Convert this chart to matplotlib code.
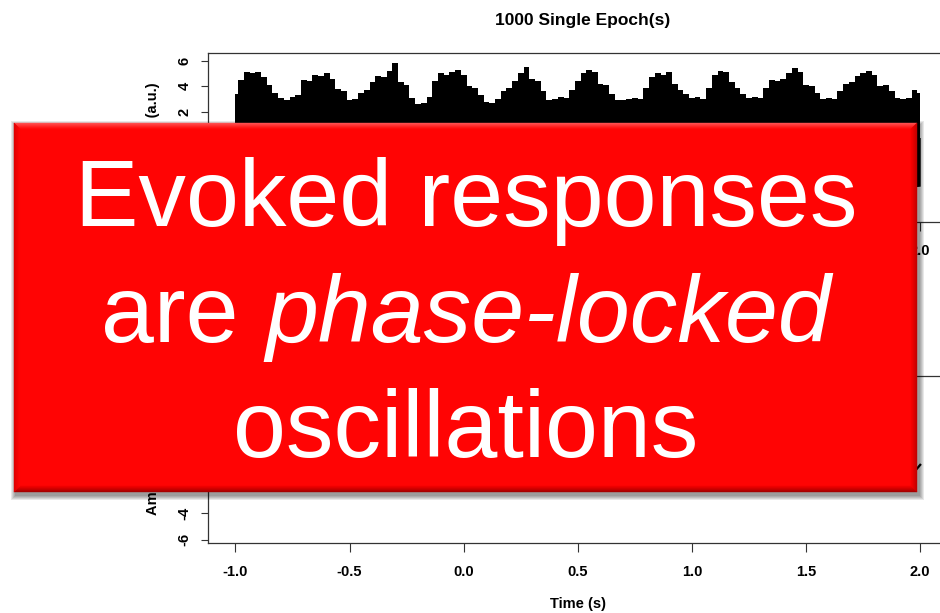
import numpy as np
import matplotlib
matplotlib.use("Agg")
import matplotlib.pyplot as plt
from matplotlib.patches import Rectangle, Polygon

# ---------------- data ----------------
# upper edge of the black band of 1000 overlaid single epochs, every 0.025 s from -1.0 s to 2.0 s
epoch_upper = [
    3.4, 4.5, 5.1, 5.0, 5.1, 4.7, 4.1, 3.5, 3.1, 2.9,
    3.2, 3.3, 4.5, 4.4, 4.9, 4.8, 5.0, 4.6, 3.8, 3.6,
    2.9, 3.0, 3.5, 3.7, 4.3, 4.8, 4.7, 5.2, 5.8, 4.3,
    4.1, 3.1, 2.6, 2.7, 3.2, 4.4, 5.0, 4.9, 5.1, 5.3,
    4.9, 4.0, 3.9, 3.3, 2.8, 2.7, 3.0, 3.6, 3.9, 4.4,
    5.0, 5.5, 4.6, 4.4, 3.6, 2.9, 3.0, 3.2, 3.1, 3.7,
    4.4, 5.0, 5.3, 5.1, 4.2, 4.1, 3.4, 2.9, 2.9, 3.0,
    3.1, 3.0, 3.9, 4.7, 5.0, 4.9, 5.1, 4.2, 3.7, 3.4,
    3.1, 3.2, 3.0, 3.9, 4.9, 5.2, 5.1, 4.3, 3.9, 3.4,
    3.1, 3.2, 3.1, 3.9, 4.5, 4.4, 4.6, 5.0, 5.4, 5.1,
    4.1, 4.0, 3.5, 3.0, 3.1, 3.0, 3.6, 4.2, 4.3, 4.8,
    5.0, 5.2, 4.9, 4.0, 4.1, 3.6, 3.1, 3.0, 3.1, 3.7,
    3.5,
]
epoch_upper_time = np.round(-1.0 + 0.025 * np.arange(len(epoch_upper)), 3)

# lower edge of the band (mostly hidden), every 0.1 s
epoch_lower = [
    -4.0, -4.8, -3.5, -4.6, -3.2, -4.9, -4.4, -3.3, -4.7, -5.0,
    -3.4, -4.6, -4.9, -3.2, -4.3, -5.0, -3.6, -3.8, -4.9, -3.5,
    -3.6, -4.8, -4.2, -3.3, -4.8, -4.5, -3.3, -4.9, -4.5, -4.0,
    -3.8,
]
epoch_lower_time = np.round(-1.0 + 0.1 * np.arange(len(epoch_lower)), 3)

# average over the epochs (mostly hidden), every 0.05 s
average = [
    0.3, 1.0, 1.0, 0.1, -0.9, -0.9, 0.3, 0.8, 0.9, -0.1,
    -1.0, -0.5, 0.3, 0.9, 1.2, 0.0, -1.3, -0.7, 0.8, 1.1,
    0.7, -0.3, -1.1, -0.9, -0.1, 1.0, 0.8, -0.4, -1.0, -0.7,
    0.3, 1.1, 0.4, -0.6, -1.1, -0.8, -0.1, 0.9, 0.9, -0.2,
    -0.9, -0.9, 0.7, 1.0, -0.2, -0.9, -0.8, 0.3, 0.7, 1.1,
    0.2, -0.6, -1.0, -0.5, 0.3, 1.0, 0.7, -0.1, -0.9, -1.4,
    -0.4,
]
average_time = np.round(-1.0 + 0.05 * np.arange(len(average)), 3)

x_ticks = [-1.0, -0.5, 0.0, 0.5, 1.0, 1.5, 2.0]
x_tick_labels = ["-1.0", "-0.5", "0.0", "0.5", "1.0", "1.5", "2.0"]
y_ticks = [-6, -4, -2, 0, 2, 4, 6]
y_tick_labels = ["-6", "-4", "-2", "0", "2", "4", "6"]

top_title = "1000 Single Epoch(s)"
x_label = "Time (s)"
y_label = "Amplitude (a.u.)"
overlay_line1 = "Evoked responses"
overlay_line2a = "are"
overlay_line2b = "phase-locked"
overlay_line3 = "oscillations"

# ---------------- figure ----------------
plt.rcParams["font.family"] = ["Liberation Sans", "DejaVu Sans"]
plt.rcParams["font.weight"] = "bold"
plt.rcParams["axes.unicode_minus"] = False

W, H = 940, 613
fig = plt.figure(figsize=(W / 100, H / 100), dpi=100)
fig.patch.set_facecolor("white")

axL, axR = 208, 947.6
ax1 = fig.add_axes([axL / W, (H - 222) / H, (axR - axL) / W, 169 / H])
ax2 = fig.add_axes([axL / W, (H - 543) / H, (axR - axL) / W, 167 / H])

edge = "#333333"
for ax in (ax1, ax2):
    ax.set_xlim(-1.12, 2.12)
    ax.set_xticks(x_ticks)
    ax.set_xticklabels(x_tick_labels, fontsize=10.5, fontweight="bold")
    ax.set_yticks(y_ticks)
    ax.set_yticklabels(y_tick_labels, fontsize=10.5, fontweight="bold",
                       rotation=90, va="center")
    ax.tick_params(axis="x", direction="out", length=6.5, width=0.8,
                   color=edge, pad=9)
    ax.tick_params(axis="y", direction="out", length=5, width=0.8,
                   color=edge, pad=7)
    for s in ax.spines.values():
        s.set_color(edge)
        s.set_linewidth(0.9)
    ax.set_ylabel(y_label, fontsize=10.5, fontweight="bold")
    ax.yaxis.set_label_coords(-(axL - 160) / (axR - axL), 0.5)

ax2.set_xlabel(x_label, fontsize=10.5, fontweight="bold")
ax2.xaxis.set_label_coords(0.5, -(597 - 543) / 167)

ax1.set_ylim(-6.6, 6.6)
ax2.set_ylim(-6.24, 6.24)

# labels that lie completely under the red box are not drawn
for lab, v in zip(ax1.get_yticklabels(), y_ticks):
    lab.set_visible(v > 0)
for lab, v in zip(ax1.get_xticklabels(), x_ticks):
    lab.set_visible(v == 2.0)
for lab, v in zip(ax2.get_yticklabels(), y_ticks):
    lab.set_visible(v < -2)

ax1.fill_between(epoch_upper_time, 0, epoch_upper, step="mid",
                 color="black", linewidth=0)
ax1.fill_between(epoch_lower_time, epoch_lower, 0, color="black", linewidth=0)
ax2.plot(average_time, average, color="black", linewidth=1.6)

ax1.text((583 - axL) / (axR - axL), 1 + (53 - 20) / 169, top_title,
         transform=ax1.transAxes, ha="center", va="center",
         fontsize=12.5, fontweight="bold")

# ---------------- red overlay box ----------------
ov = fig.add_axes([0, 0, 1, 1], zorder=10)
ov.set_xlim(0, W)
ov.set_ylim(H, 0)
ov.axis("off")

L, T, R, B = 14, 123, 917, 492
# soft shadow
for e in range(5, 0, -1):
    ov.add_patch(Rectangle((L + 2 - e, T + 3 - e), (R - L) + 2 * e, (B - T) + 2 * e,
                           facecolor="black", edgecolor="none", alpha=0.09))
ov.add_patch(Rectangle((L, T), R - L, B - T, facecolor="#FF0404", edgecolor="none"))


def mix(c1, c2, f):
    return tuple((c1[k] + (c2[k] - c1[k]) * f) / 255 for k in range(3))


bw = 6
for i in range(bw):
    f = i / (bw - 1)
    strips = [
        ([(L + i, T + i), (R - i, T + i), (R - i - 1, T + i + 1), (L + i + 1, T + i + 1)],
         mix((255, 80, 80), (255, 12, 12), f)),
        ([(L + i, B - i), (R - i, B - i), (R - i - 1, B - i - 1), (L + i + 1, B - i - 1)],
         mix((165, 0, 0), (238, 0, 0), f)),
        ([(L + i, T + i), (L + i + 1, T + i + 1), (L + i + 1, B - i - 1), (L + i, B - i)],
         mix((225, 0, 0), (252, 4, 4), f)),
        ([(R - i, T + i), (R - i - 1, T + i + 1), (R - i - 1, B - i - 1), (R - i, B - i)],
         mix((195, 0, 0), (245, 0, 0), f)),
    ]
    for pts, col in strips:
        ov.add_patch(Polygon(pts, closed=True, facecolor=col, edgecolor=col,
                             linewidth=0.3))

big = 68.5
cx = 466
ov.text(cx, 226, overlay_line1, fontsize=big, color="white", ha="center",
        va="baseline", fontweight="normal", family="Liberation Sans")
ov.text(cx, 457, overlay_line3, fontsize=big, color="white", ha="center",
        va="baseline", fontweight="normal", family="Liberation Sans")

ta = ov.text(0, 342, overlay_line2a, fontsize=big, color="white", ha="left",
             va="baseline", fontweight="normal", family="Liberation Sans")
tb = ov.text(0, 342, overlay_line2b, fontsize=big, color="white", ha="left",
             va="baseline", fontweight="normal", style="italic",
             family="Liberation Sans")
fig.canvas.draw()
rend = fig.canvas.get_renderer()
wa = ta.get_window_extent(rend).width
wb = tb.get_window_extent(rend).width
space = 0.278 * big * 100 / 72
x0 = cx - (wa + space + wb) / 2
ta.set_x(x0)
tb.set_x(x0 + wa + space)

fig.savefig("out.png", dpi=100)
